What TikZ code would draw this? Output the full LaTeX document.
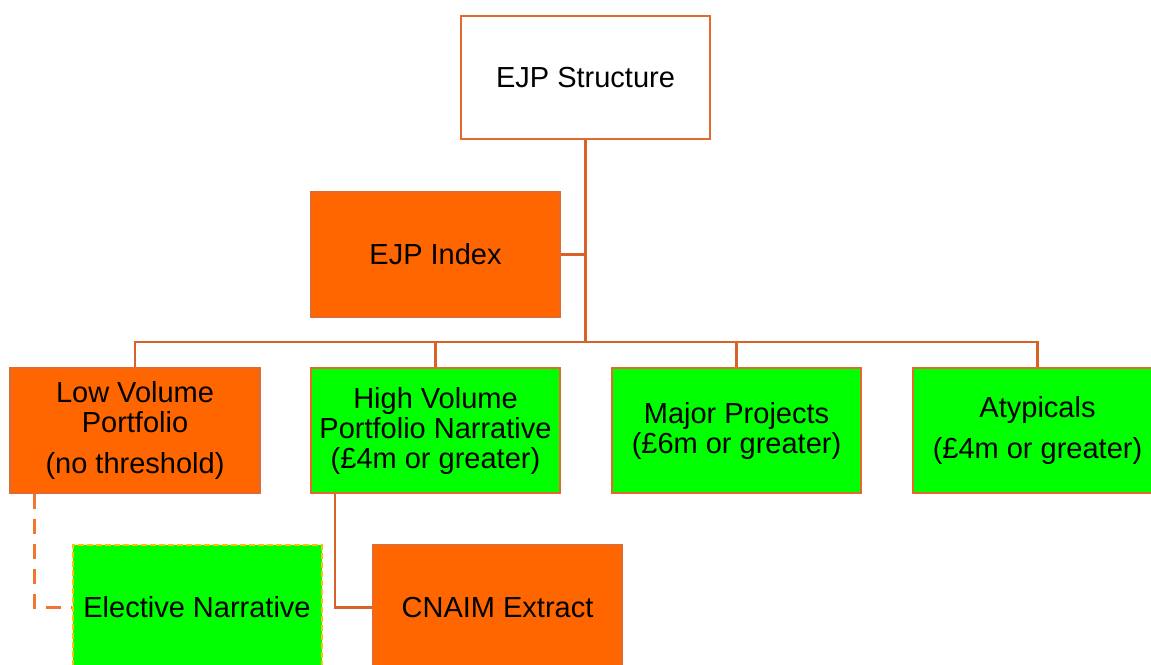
\documentclass[tikz,border=0pt]{standalone}
\usepackage{fontspec}
\setmainfont{Liberation Sans}
\definecolor{lineor}{RGB}{216,98,40}
\definecolor{boxor}{RGB}{226,106,44}
\definecolor{fillor}{HTML}{FF6600}
\definecolor{fillgr}{HTML}{00FF00}
\definecolor{dashor}{RGB}{240,118,50}
\definecolor{yel}{HTML}{FFC000}
\tikzset{
  box/.style={draw=boxor, line width=2.5pt, minimum width=249pt, minimum height=125pt,
    inner sep=0pt, align=center, font=\fontsize{29}{30}\selectfont, text=black},
  orangebox/.style={box, fill=fillor},
  greenbox/.style={box, fill=fillgr},
  conn/.style={draw=lineor, line width=2.5pt},
  dconn/.style={draw=dashor, line width=2.5pt, dash pattern=on 15pt off 10pt},
}
\begin{document}
\begin{tikzpicture}[x=1pt,y=-1pt]
\useasboundingbox (0,0) rectangle (1151,664);
\node[box, fill=white, minimum height=123pt] (top) at (585.5,77.5) {EJP Structure};
\node[orangebox] (index) at (435.5,254.5) {EJP Index};
\node[orangebox] (low) at (135,430.5) {Low Volume\\Portfolio\\[11pt](no threshold)};
\node[greenbox] (high) at (435.5,430.5) {High Volume\\Portfolio Narrative\\(£4m or greater)};
\node[greenbox] (major) at (736.5,430.5) {Major Projects\\(£6m or greater)};
\node[greenbox] (aty) at (1037.5,430.5) {Atypicals\\[11pt](£4m or greater)};
\node[box, fill=fillgr, draw=yel, line width=2pt, dash pattern=on 6pt off 3pt] (elective) at (197,607.5) {Elective Narrative};
\node[orangebox] (cnaim) at (497.5,607.5) {CNAIM Extract};
\coordinate (j) at (585.5,342);
\draw[conn] (top.south) -- (j);
\draw[conn] (index.east) -- (index.east -| j);
\draw[conn] (low.north) |- (j) -| (aty.north);
\draw[conn] (high.north) -- (high.north |- j);
\draw[conn] (major.north) -- (major.north |- j);
\draw[dconn] ([xshift=25pt]low.south west) |- (elective.west);
\draw[conn] ([xshift=25pt]high.south west) |- (cnaim.west);
\end{tikzpicture}
\end{document}
